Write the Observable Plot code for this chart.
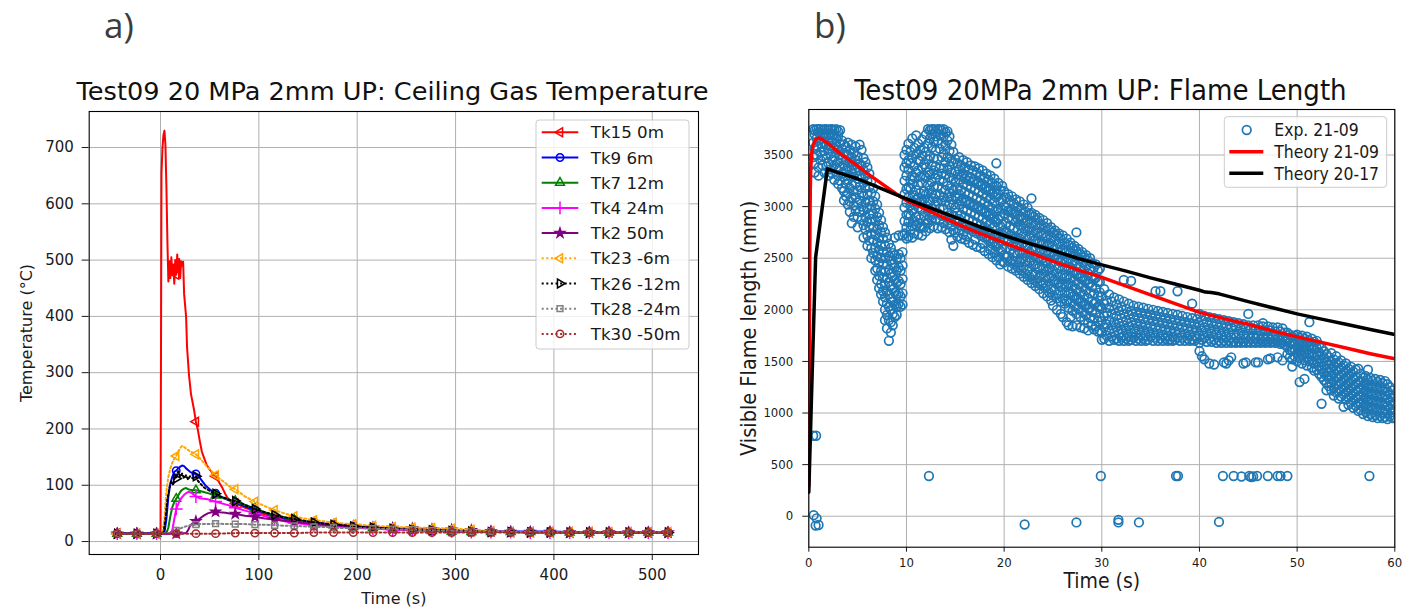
<!DOCTYPE html>
<html>
<head>
<meta charset="utf-8">
<script src="https://cdn.jsdelivr.net/npm/d3@7"></script>
<script src="https://cdn.jsdelivr.net/npm/@observablehq/plot@0.6"></script>
<style>
  html, body { margin: 0; padding: 0; background: #fff; }
  #page { position: relative; width: 1419px; height: 608px; overflow: hidden; background: #fff; }
  #page > svg { position: absolute; top: 0; }
</style>
</head>
<body>
<div id="page"></div>
<script>
// ---------- Panel a) ceiling gas temperature, Test09 ----------
const tempXTicks = [0, 100, 200, 300, 400, 500];
const tempYTicks = [0, 100, 200, 300, 400, 500, 600, 700];
// samples that carry a marker (every 20 s)
const markerTimes = [-44, -24, -4, 16, 36, 56, 76, 96, 116, 136, 156, 176, 196, 216, 236, 256, 276, 296, 316, 336, 356, 376, 396, 416, 436, 456, 476, 496, 516];

// [time s, temperature °C]
const tk15 = [[-44,15],[-24,14],[-4,14],[0,15],[1,655],[2,700],[3,722],[4,730],[5,705],[6,630],[7,535],[8,462],[9,498],[10,468],[11,505],[12,476],[13,492],[14,458],[15,500],[16,474],[17,510],[18,478],[19,502],[20,468],[21,498],[22,490],[23,497],[24,440],[26,400],[27,345],[29,295],[31,262],[34,235],[36,213],[38,198],[40,178],[42,160],[44,150],[47,136],[50,128],[53,121],[56,116],[58,111],[60,104],[63,95],[66,84],[68,78],[72,72],[76,68],[86,60],[96,54],[106,48],[116,44],[126,40],[136,37],[146,35],[156,33],[176,30],[196,27],[216,25],[236,23],[256,21],[276,20],[296,19],[316,18],[336,18],[356,17],[376,17],[396,17],[416,17],[436,17],[456,16],[476,16],[496,16],[516,16],[519,16]];
const tk9 = [[-44,15],[-24,15],[-4,15],[4,16],[6,40],[8,80],[10,103],[12,115],[14,124],[16,126],[18,130],[20,133],[22,135],[24,134],[26,130],[28,127],[30,124],[33,121],[36,120],[38,117],[40,113],[43,106],[46,99],[50,93],[53,89],[56,86],[60,81],[66,76],[70,73],[76,70],[86,62],[96,56],[106,51],[116,46],[126,42],[136,39],[146,36],[156,34],[166,32],[176,30],[186,28],[196,27],[216,25],[236,23],[256,21],[276,20],[296,19],[316,18],[336,18],[356,18],[376,18],[396,18],[416,17],[436,17],[456,17],[476,17],[496,17],[516,17],[519,17]];
const tk7 = [[-44,14],[-24,14],[-4,14],[6,15],[8,25],[10,45],[12,61],[14,70],[16,76],[18,82],[20,88],[22,92],[24,94],[26,95],[28,93],[30,92],[33,91],[36,91],[40,90],[44,88],[48,86],[52,84],[56,82],[60,79],[66,76],[70,74],[76,72],[86,65],[96,59],[106,52],[116,47],[126,43],[136,39],[146,36],[156,33],[166,31],[176,29],[186,27],[196,26],[216,24],[236,22],[256,20],[276,19],[296,18],[316,17],[336,17],[356,17],[376,17],[396,17],[416,16],[436,16],[456,16],[476,16],[496,16],[516,16],[519,16]];
const tk4 = [[-44,14],[-24,14],[-4,14],[10,14],[12,20],[14,40],[16,58],[18,67],[20,74],[22,79],[24,83],[26,86],[28,88],[30,88],[32,86],[34,83],[36,80],[40,77],[44,76],[48,75],[52,73],[56,71],[60,69],[66,66],[70,64],[76,60],[86,55],[96,50],[106,45],[116,40],[126,36],[136,33],[146,31],[156,29],[176,27],[196,25],[216,23],[236,21],[256,20],[276,19],[296,18],[316,17],[336,17],[356,17],[376,16],[396,16],[416,16],[436,16],[456,16],[476,16],[496,16],[516,16],[519,16]];
const tk2 = [[-44,14],[-24,14],[-4,14],[16,14],[26,15],[28,20],[30,28],[33,33],[36,36],[40,41],[44,46],[48,50],[52,52],[56,53],[60,52],[66,51],[70,50],[76,49],[86,46],[96,44],[106,41],[116,39],[126,37],[136,35],[146,33],[156,31],[166,30],[176,29],[196,27],[216,25],[236,24],[256,23],[276,22],[296,21],[316,20],[336,18],[356,17],[376,17],[396,17],[416,16],[436,16],[456,16],[476,16],[496,16],[516,16],[519,16]];
const tk23 = [[-44,14],[-24,14],[-4,14],[2,16],[4,40],[6,90],[8,115],[10,130],[12,140],[14,147],[16,152],[18,160],[20,166],[22,170],[24,168],[26,165],[28,163],[30,160],[33,158],[36,155],[40,148],[44,140],[48,132],[52,125],[56,118],[60,112],[66,104],[70,98],[76,93],[80,88],[86,80],[96,71],[106,63],[116,56],[126,50],[136,45],[146,41],[156,38],[166,36],[176,34],[186,32],[196,31],[216,28],[236,26],[256,25],[276,24],[296,23],[316,21],[336,18],[356,17],[376,17],[396,17],[416,17],[436,17],[456,17],[476,17],[496,17],[516,17],[519,17]];
const tk26 = [[-44,14],[-24,14],[-4,14],[3,15],[5,40],[7,75],[9,95],[11,108],[13,100],[15,118],[16,112],[18,125],[20,115],[22,121],[24,112],[26,118],[28,110],[30,116],[33,112],[36,116],[38,108],[40,104],[43,98],[46,94],[50,90],[53,87],[56,85],[60,80],[66,77],[70,74],[76,72],[80,70],[86,65],[96,58],[106,52],[116,47],[126,43],[136,40],[146,37],[156,34],[166,32],[176,30],[186,29],[196,27],[216,25],[236,23],[256,21],[276,20],[296,19],[316,18],[336,17],[356,17],[376,16],[396,16],[416,16],[436,16],[456,16],[476,16],[496,16],[516,16],[519,16]];
const tk28 = [[-44,14],[-24,14],[-4,14],[10,15],[14,18],[16,20],[20,23],[24,26],[28,28],[32,30],[36,30],[40,31],[46,31],[56,32],[66,31],[76,31],[86,31],[96,30],[106,30],[116,29],[126,28],[136,28],[146,27],[156,26],[166,26],[176,25],[186,24],[196,24],[216,23],[236,22],[256,21],[276,20],[296,19],[316,18],[336,18],[356,17],[376,17],[396,16],[416,16],[436,16],[456,16],[476,16],[496,16],[516,16],[519,16]];
const tk30 = [[-44,14],[-24,14],[-4,14],[16,14],[36,14],[56,14],[76,15],[96,15],[116,15],[136,15],[156,16],[176,16],[196,16],[216,16],[236,16],[256,16],[276,16],[296,16],[316,16],[336,16],[356,16],[376,16],[396,16],[416,16],[436,16],[456,16],[476,16],[496,16],[516,16],[519,16]];

const dotted = "2,2.6";
const thermocouples = [
  {name: "Tk15 0m",   data: tk15, color: "red",     dash: null,   symbol: d3.symbolTriangle2, rotate: -90, fill: "none", r: 4.2},
  {name: "Tk9 6m",    data: tk9,  color: "blue",    dash: null,   symbol: d3.symbolCircle,    rotate: 0,   fill: "none", r: 3.7},
  {name: "Tk7 12m",   data: tk7,  color: "green",   dash: null,   symbol: d3.symbolTriangle2, rotate: 0,   fill: "none", r: 4.2},
  {name: "Tk4 24m",   data: tk4,  color: "magenta", dash: null,   symbol: d3.symbolPlus,      rotate: 0,   fill: "none", r: 4.2},
  {name: "Tk2 50m",   data: tk2,  color: "purple",  dash: null,   symbol: d3.symbolStar,      rotate: 0,   fill: "purple", r: 2.9},
  {name: "Tk23 -6m",  data: tk23, color: "orange",  dash: dotted, symbol: d3.symbolTriangle2, rotate: -90, fill: "none", r: 4.2},
  {name: "Tk26 -12m", data: tk26, color: "black",   dash: dotted, symbol: d3.symbolTriangle2, rotate: 90,  fill: "none", r: 4.2},
  {name: "Tk28 -24m", data: tk28, color: "gray",    dash: dotted, symbol: d3.symbolSquare2,   rotate: 0,   fill: "none", r: 3.7},
  {name: "Tk30 -50m", data: tk30, color: "brown",   dash: dotted, symbol: d3.symbolCircle,    rotate: 0,   fill: "none", r: 3.7}
];
const markerSet = new Set(markerTimes);

const seriesMarks = thermocouples.flatMap(s => [
  Plot.line(s.data, {x: d => d[0], y: d => d[1], stroke: s.color, strokeWidth: 2, strokeDasharray: s.dash ?? undefined}),
  Plot.dot(s.data.filter(d => markerSet.has(d[0])), {x: d => d[0], y: d => d[1], symbol: s.symbol, r: s.r, rotate: s.rotate, stroke: s.color, fill: s.fill, strokeWidth: 1.5})
]);

const fmt = d => String(d);
const gridStyle = {stroke: "#b0b0b0", strokeOpacity: 1, strokeWidth: 1};

const left = Plot.plot({
  width: 710, height: 608,
  marginLeft: 88.7, marginRight: 12, marginTop: 111, marginBottom: 54,
  style: {fontFamily: "DejaVu Sans", fontSize: "15px", color: "#1a1a1a", background: "transparent", overflow: "visible"},
  x: {domain: [-72.5, 547], ticks: tempXTicks, tickSize: 6, tickPadding: 8.8, tickFormat: fmt, label: null},
  y: {domain: [-23, 764], ticks: tempYTicks, tickSize: 7, tickPadding: 8.4, tickFormat: fmt, label: null},
  marks: [
    Plot.gridX({ticks: tempXTicks, ...gridStyle}),
    Plot.gridY({ticks: tempYTicks, ...gridStyle}),
    ...seriesMarks,
    Plot.frame({stroke: "#000", strokeWidth: 1.1}),
    Plot.text(["Time (s)"], {text: d => d, frameAnchor: "bottom", lineAnchor: "middle", dy: 44, fontSize: 16}),
    Plot.text(["Temperature (°C)"], {text: d => d, frameAnchor: "left", textAnchor: "middle", lineAnchor: "middle", dx: -62, rotate: -90, fontSize: 16})
  ]
});
left.style.left = "0px";

// ---------- Panel b) visible flame length, Test09 ----------
const lenXTicks = [0, 10, 20, 30, 40, 50, 60];
const lenYTicks = [0, 500, 1000, 1500, 2000, 2500, 3000, 3500];

// [time s, length mm]
const theory2109 = [[0,297],[0.05,1500],[0.1,2600],[0.15,3150],[0.2,3380],[0.3,3520],[0.45,3600],[0.7,3650],[1.0,3665],[1.3,3655],[2,3610],[3,3530],[4,3460],[5,3395],[6,3320],[7.5,3220],[9,3120],[10,3060],[12.5,2950],[15,2840],[17.5,2740],[20,2650],[22.5,2560],[25,2470],[27.5,2390],[30,2315],[32.5,2230],[35,2145],[37.5,2060],[40,1975],[42.5,1915],[45,1860],[47.5,1795],[50,1738],[52.5,1685],[55,1630],[57.5,1575],[60,1525]];
const theory2017 = [[0,232],[0.35,1400],[0.7,2510],[1.9,3366],[3,3330],[5,3270],[7.5,3173],[10,3075],[12.5,2985],[15,2895],[17.5,2805],[20,2720],[22.5,2645],[25,2575],[27.5,2500],[30,2436],[32.5,2375],[35,2310],[37.5,2250],[40,2190],[40.6,2172],[41.2,2168],[42,2155],[45,2080],[47.5,2020],[50,1961],[52.5,1910],[55,1860],[57.5,1810],[60,1761]];

// measured flame lengths: each row is [time s, length mm, length mm, ...]
const expRise = [
  [0.45,3750,3620,3480],[0.6,3740,3700,3560,3420,3330],[0.8,3750,3660,3590,3500],[1.0,3750,3720,3640,3380,3300],
  [1.2,3750,3700,3610,3530,3450],[1.4,3740,3690,3580,3490,3400],[1.6,3750,3710,3620,3540,3330],[1.8,3750,3680,3600,3470,3390],
  [2.0,3740,3700,3630,3560,3420,3300],[2.2,3750,3710,3590,3510,3360],[2.4,3750,3690,3640,3450,3320],[2.6,3740,3700,3570,3480,3400,3260],
  [2.8,3750,3660,3600,3520,3370],[3.0,3730,3680,3550,3430,3300,3220],[3.2,3740,3610,3500,3380,3250],[3.4,3640,3560,3470,3320,3180],
  [3.6,3600,3520,3410,3290,3150,3060],[3.8,3580,3450,3350,3220,3100],[4.0,3620,3500,3390,3260,3130,3020],[4.2,3550,3430,3300,3180,3050,2950],
  [4.4,3600,3480,3360,3210,3080,2840],[4.6,3520,3400,3290,3150,3010,2900],[4.8,3580,3450,3330,3220,3090,2960],[5.0,3490,3380,3270,3160,3040,2900,2800],
  [5.2,3600,3420,3300,3190,3060,2950],[5.4,3550,3400,3280,3130,3000,2870],[5.6,3470,3350,3230,3100,2960,2820,2700],[5.8,3430,3300,3180,3040,2900,2780],
  [6.0,3380,3250,3120,2990,2850,2720,2620],[6.2,3320,3190,3060,2930,2800,2670],[6.4,3250,3130,3010,2880,2740,2600,2500],[6.6,3180,3050,2930,2800,2680,2550],
  [6.8,3100,2980,2860,2730,2600,2480,2380],[7.0,3020,2900,2780,2650,2520,2400,2290],[7.2,2940,2820,2700,2580,2460,2330,2210],[7.4,2870,2750,2620,2500,2380,2250,2150],
  [7.6,2800,2690,2560,2440,2310,2180,2080],[7.8,2750,2620,2500,2370,2240,2120,2000,1900],[8.0,2700,2560,2440,2310,2180,2060,1950,1820],[8.2,2640,2520,2390,2270,2150,2030,1900,1700],
  [8.4,2600,2480,2350,2230,2110,2000,1880,1780],[8.6,2550,2440,2320,2200,2080,1960,1850],[8.8,2700,2530,2410,2290,2170,2050,1930],[9.0,2500,2380,2260,2140,2030,1950],
  [9.2,2720,2540,2410,2280,2160,2060],[9.4,2500,2380,2250,2130,2030],[9.6,2720,2560,2430,2300,2160,2050],[9.8,3500,3380,3250,3120,2990,2860,2740],
  [10.0,3550,3420,3300,3170,3040,2920,2800,2690]
];
const expSecond = [
  [10.2,3610,3450,3360,3190,3090,2930,2850,2710],[10.4,3530,3420,3260,3170,3010,2910,2770],[10.6,3660,3470,3300,3220,3050,2960,2810,2700],[10.8,3570,3390,3280,3110,3020,2860,2740],
  [11.0,3690,3510,3330,3160,3070,2900,2820],[11.2,3610,3450,3350,3210,3080,2990,2840,2730],[11.4,3550,3440,3290,3130,3040,2880,2790],[11.6,3650,3490,3380,3230,3060,2970,2810,2720],
  [11.8,3570,3410,3300,3150,3070,2910,2800],[12.0,3700,3530,3380,3280,3120,3010,2870,2760],[12.2,3750,3610,3460,3330,3210,3060,2960,2840],[12.4,3740,3660,3490,3310,3160,3050,2900,2790],
  [12.6,3750,3700,3570,3400,3240,3130,2980,2870],[12.8,3750,3630,3470,3350,3190,3080,2930,2810],[13.0,3730,3680,3540,3390,3280,3120,3020,2880],[13.2,3750,3640,3460,3310,3200,3050,2940,2790],
  [13.4,3750,3700,3560,3370,3260,3110,2980,2870],[13.6,3740,3610,3480,3320,3170,3060,2910,2800],[13.8,3750,3680,3510,3370,3240,3090,2980,2840],[14.0,3720,3590,3430,3310,3160,3050,2900,2780],
  [14.2,3730,3640,3480,3360,3200,3090,2940,2830],[14.4,3680,3540,3390,3280,3130,3020,2870,2750],[14.6,3600,3440,3330,3180,3070,2920,2810,2680],[14.8,3530,3420,3270,3160,3020,2910,2770,2620],
  [15.0,3460,3340,3240,3100,2990,2860,2750],[15.2,3420,3310,3180,3080,2940,2840,2710],[15.4,3480,3360,3260,3120,3020,2880,2770],[15.6,3400,3300,3160,3060,2920,2820,2690],
  [15.8,3450,3320,3220,3080,2980,2840,2730],[16.0,3380,3270,3140,3040,2900,2800,2680],[16.2,3430,3300,3200,3060,2960,2820,2710],[16.4,3360,3250,3120,3020,2880,2780,2650],
  [16.6,3400,3280,3180,3040,2940,2800],[16.8,3350,3240,3100,3000,2860,2760,2630],[17.0,3390,3260,3160,3020,2920,2780,2680],[17.2,3330,3220,3080,2980,2840,2740,2610],
  [17.4,3370,3240,3140,3000,2900,2760],[17.6,3300,3200,3060,2960,2820,2720,2600],[17.8,3350,3220,3120,2980,2880,2740,2640],[18.0,3280,3170,3040,2940,2800,2700,2570],
  [18.2,3320,3190,3090,2950,2850,2710],[18.4,3260,3150,3010,2910,2770,2670,2540],[18.6,3300,3170,3070,2930,2830,2690,2580],[18.8,3230,3120,2980,2880,2740,2640,2510],
  [19.0,3270,3140,3040,2900,2800,2660,2550],[19.2,3420,3200,3090,2950,2850,2710,2610,2480],[19.4,3230,3120,2980,2880,2740,2640,2510],[19.6,3160,3050,2910,2810,2670,2570,2440],
  [19.8,3200,3070,2970,2830,2730,2590,2470]
];
const expDecay = [
  [20.0,3150,3010,2930,2770,2690,2530,2460],[20.2,3090,2990,2840,2750,2600,2510],[20.4,3120,2960,2890,2740,2660,2520,2420],[20.6,3060,2950,2810,2720,2580,2470],
  [20.8,3100,2970,2870,2710,2620,2480,2400],[21.0,3030,2930,2790,2690,2550,2440],[21.2,3070,2950,2850,2700,2610,2470,2380],[21.4,3000,2880,2780,2640,2540,2410],
  [21.6,3050,2910,2820,2690,2560,2460,2350],[21.8,2980,2870,2740,2630,2500,2380],[22.0,3020,2890,2790,2650,2550,2410,2320],[22.2,2950,2840,2710,2610,2470,2350],
  [22.4,2990,2860,2760,2620,2510,2380,2290],[22.6,2930,2800,2700,2560,2460,2320],[22.8,3080,2940,2840,2720,2580,2480,2340,2260],[23.0,2900,2770,2670,2530,2430,2290],
  [23.2,2920,2820,2680,2580,2440,2340,2230],[23.4,2870,2740,2640,2500,2400,2260],[23.6,2890,2790,2650,2550,2410,2310,2200],[23.8,2830,2720,2590,2490,2350,2240],
  [24.0,2870,2740,2640,2500,2400,2260,2160],[24.2,2800,2700,2560,2460,2320,2210],[24.4,2840,2710,2610,2470,2370,2230,2130],[24.6,2780,2650,2550,2410,2310,2170],
  [24.8,2800,2700,2560,2460,2330,2200,2090],[25.0,2750,2620,2520,2380,2280,2140,2040],[25.2,2770,2670,2530,2430,2290,2190],[25.4,2720,2590,2490,2350,2250,2110,2000],
  [25.6,2740,2640,2500,2400,2260,2150],[25.8,2690,2560,2460,2320,2220,2080,1960],[26.0,2720,2590,2490,2350,2250,2110,1930],[26.2,2650,2550,2410,2310,2170,2060],
  [26.4,2690,2560,2460,2320,2220,2080,1880],[26.6,2630,2500,2400,2260,2160,2020,1850],[26.8,2650,2550,2410,2310,2170,2070,1930],[27.0,2600,2470,2370,2230,2130,1990,1840],
  [27.2,2620,2520,2380,2280,2140,2040],[27.4,2750,2570,2440,2340,2200,2100,1960,1850],[27.6,2590,2490,2350,2250,2110,2010],[27.8,2540,2410,2310,2170,2070,1930,1830],
  [28.0,2560,2460,2320,2220,2080,1980],[28.2,2510,2380,2280,2140,2040,1900,1820],[28.4,2530,2430,2290,2190,2050,1950],[28.6,2480,2350,2250,2110,2010,1870,1800],
  [28.8,2500,2400,2260,2160,2020,1920],[29.0,2450,2320,2220,2080,1980,1850],[29.2,2410,2300,2160,2060,1920,1810],[29.4,2440,2310,2210,2070,1970,1840],
  [29.6,2380,2270,2130,2030,1890,1790],[29.8,2400,2270,2170,2030,1930,1800]
];
const expPlateau = [
  [30.0,2130,2010,1890,1780,1710],[30.25,2200,2060,1940,1830,1720],[30.5,2090,1970,1860,1750],[30.75,2150,2020,1900,1800,1700],
  [31.0,2080,1960,1850,1740],[31.25,2120,2000,1880,1780,1710],[31.5,2050,1940,1830,1720],[31.75,2100,1990,1870,1770,1700],
  [32.0,2030,1920,1810,1730],[32.25,2290,2080,1960,1850,1750,1700],[32.5,2010,1900,1800,1720],[32.75,2060,1950,1840,1740,1700],
  [33.0,2280,1990,1880,1780,1710],[33.25,2040,1930,1820,1730],[33.5,1980,1870,1770,1700],[33.75,2030,1920,1810,1720],
  [34.0,1970,1860,1760,1700],[34.25,2020,1910,1800,1720],[34.5,1960,1850,1750,1700],[34.75,2010,1900,1790,1710],
  [35.0,1950,1840,1740],[35.25,2000,1890,1780,1700],[35.5,2180,1940,1830,1730],[35.75,1990,1880,1770,1700],
  [36.0,2180,1930,1820,1720],[36.25,1980,1870,1760,1700],[36.5,1920,1810,1720],[36.75,1970,1860,1750,1700],
  [37.0,1910,1800,1710],[37.25,1960,1850,1740,1700],[37.5,1900,1790,1710],[37.75,2180,1950,1840,1730],
  [38.0,1890,1780,1700],[38.25,1940,1830,1730],[38.5,1880,1770,1700],[38.75,1930,1820,1720],
  [39.0,1870,1760,1700],[39.25,2060,1920,1810,1710],[39.5,1860,1750,1700],[39.75,1910,1800,1720],
  [40.0,1960,1850,1750,1680,1600],[40.25,1900,1800,1710,1550],[40.5,1940,1830,1730,1520],[40.75,1880,1780,1690],
  [41.0,1930,1820,1720,1480],[41.25,1870,1770,1690],[41.5,1920,1810,1710,1470],[41.75,1860,1760,1680],
  [42.0,1910,1800,1700],[42.25,1850,1750,1680],[42.5,1900,1790,1700,1490],[42.75,1840,1740,1680,1480],
  [43.0,1890,1780,1700,1510],[43.25,1830,1730,1680,1540],[43.5,1880,1770,1690],[43.75,1830,1730,1680],
  [44.0,1870,1770,1690],[44.25,1820,1720,1680],[44.5,1860,1760,1690,1480],[44.75,1820,1720,1680,1490],
  [45.0,1960,1850,1750,1690],[45.25,1810,1720,1680],[45.5,1850,1750,1690],[45.75,1810,1720,1680,1490],
  [46.0,1850,1750,1690,1490],[46.25,1800,1710,1680],[46.5,1870,1840,1740,1690],[46.75,1800,1710,1680],
  [47.0,1840,1740,1690,1520],[47.25,1800,1710,1680,1530],[47.5,1830,1740,1690],[47.75,1790,1710,1680],
  [48.0,1830,1730,1690,1540],[48.25,1790,1700,1670],[48.5,1820,1730,1680,1510],[48.75,1780,1700,1660]
];
const expTail = [
  [49.0,1780,1700,1640,1570],[49.25,1760,1680,1610,1540],[49.5,1740,1670,1600,1520,1450],[49.75,1750,1690,1620,1550],
  [50.0,1760,1700,1640,1580,1500],[50.25,1730,1670,1600,1530,1300],[50.5,1750,1690,1620,1560,1480],[50.75,1720,1650,1580,1510,1330],
  [51.0,1740,1680,1610,1540,1460],[51.25,1880,1700,1640,1570,1500],[51.5,1720,1650,1580,1510,1440],[51.75,1690,1620,1550,1480,1410],
  [52.0,1700,1630,1560,1490,1420],[52.25,1660,1590,1520,1450,1380],[52.5,1630,1560,1490,1420,1350,1090],[52.75,1600,1530,1460,1390,1320],
  [53.0,1570,1500,1430,1360,1290,1220],[53.25,1540,1470,1400,1330,1260],[53.5,1580,1500,1430,1360,1290,1220],[53.75,1520,1450,1380,1310,1240,1170],
  [54.0,1550,1480,1410,1340,1270,1200],[54.25,1490,1420,1350,1280,1210,1140],[54.5,1510,1440,1370,1300,1230,1160],[54.75,1460,1390,1320,1250,1180,1060],
  [55.0,1480,1410,1340,1270,1200,1130],[55.25,1430,1360,1290,1220,1150,1080],[55.5,1450,1380,1310,1240,1170,1100],[55.75,1400,1330,1260,1190,1120,1050],
  [56.0,1420,1350,1280,1210,1140,1070],[56.25,1430,1300,1230,1160,1090,1020],[56.5,1380,1310,1240,1170,1100,1030],[56.75,1340,1270,1200,1130,1060,990],
  [57.0,1360,1290,1220,1150,1080,1010],[57.25,1420,1320,1250,1180,1110,1040,970],[57.5,1340,1270,1200,1130,1060,990],[57.75,1310,1240,1170,1100,1030,960],
  [58.0,1330,1260,1190,1120,1050,980],[58.25,1300,1230,1160,1090,1020,950],[58.5,1320,1250,1180,1110,1040,970],[58.75,1290,1220,1150,1080,1010,950],
  [59.0,1310,1240,1170,1100,1030,960],[59.25,1280,1210,1140,1070,1000,940],[59.5,1250,1180,1110,1040,970],[59.75,1220,1150,1080,1010,950],
  [60.0,1170,1100,1030,960]
];
// isolated detections well below the flame band: [time s, length mm]
const expStray = [[0.5,10],[0.8,-20],[0.7,-90],[1.0,-85],[0.45,780],[0.75,780],[12.3,390],[22.1,-80],[27.4,-60],[29.9,390],[31.7,-60],[31.7,-35],[33.8,-60],[37.6,390],[37.8,390],[42.0,-55],[42.4,390],[43.5,390],[44.3,385],[45.1,390],[45.3,380],[45.5,385],[45.9,390],[47.0,390],[48.0,390],[48.3,390],[49.0,390],[57.4,390]];

const expPoints = [...expRise, ...expSecond, ...expDecay, ...expPlateau, ...expTail]
  .flatMap(([t, ...ls]) => ls.map(L => [t, L]))
  .concat(expStray);

const condensed = "'DejaVu Sans Condensed', 'DejaVu Sans'";
const expBlue = "#1f77b4";

const right = Plot.plot({
  width: 719, height: 608,
  marginLeft: 108.3, marginRight: 24.7, marginTop: 109, marginBottom: 61.3,
  style: {fontFamily: condensed, fontStretch: "condensed", fontSize: "13px", color: "#1a1a1a", background: "transparent", overflow: "visible"},
  x: {domain: [0, 60], ticks: lenXTicks, tickSize: 5, tickPadding: 5.5, tickFormat: fmt, label: null},
  y: {domain: [-300, 3941], ticks: lenYTicks, tickSize: 6, tickPadding: 9.6, tickFormat: fmt, label: null},
  marks: [
    Plot.gridX({ticks: lenXTicks, ...gridStyle}),
    Plot.gridY({ticks: lenYTicks, ...gridStyle}),
    Plot.dot(expPoints, {x: d => d[0], y: d => d[1], r: 4.3, stroke: expBlue, strokeWidth: 1.7, fill: "none", clip: true}),
    Plot.line(theory2109, {x: d => d[0], y: d => d[1], stroke: "red", strokeWidth: 3.5, clip: true}),
    Plot.line(theory2017, {x: d => d[0], y: d => d[1], stroke: "black", strokeWidth: 3.5, clip: true}),
    Plot.frame({stroke: "#000", strokeWidth: 1.1}),
    Plot.text(["Time (s)"], {text: d => d, frameAnchor: "bottom", lineAnchor: "middle", dy: 34.5, fontSize: 21}),
    Plot.text(["Visible Flame length (mm)"], {text: d => d, frameAnchor: "left", textAnchor: "middle", lineAnchor: "middle", dx: -60, rotate: -90, fontSize: 21.5})
  ]
});
right.style.left = "700px";

const page = document.getElementById("page");
page.appendChild(left);
page.appendChild(right);

// ---------- titles, panel letters and legends ----------
const overlay = d3.create("svg").attr("width", 1419).attr("height", 608)
  .style("left", "0px").style("pointer-events", "none");

overlay.append("text").text("a)").attr("x", 104).attr("y", 38)
  .attr("font-family", "Open Sans").attr("font-size", 35).attr("fill", "#3c3c3c");
overlay.append("text").text("b)").attr("x", 814).attr("y", 38)
  .attr("font-family", "Open Sans").attr("font-size", 35).attr("fill", "#3c3c3c");

overlay.append("text").text("Test09 20 MPa 2mm UP: Ceiling Gas Temperature")
  .attr("x", 392.5).attr("y", 100).attr("text-anchor", "middle")
  .attr("font-family", "DejaVu Sans").attr("font-size", 25.6).attr("fill", "#111");
overlay.append("text").text("Test09 20MPa 2mm UP: Flame Length")
  .attr("x", 1100.5).attr("y", 100).attr("text-anchor", "middle")
  .attr("font-family", condensed).attr("font-stretch", "condensed").attr("font-size", 29).attr("fill", "#111");

// legend for panel a)
const lgA = overlay.append("g");
lgA.append("rect").attr("x", 536).attr("y", 120).attr("width", 153).attr("height", 229).attr("rx", 3)
  .attr("fill", "#fff").attr("fill-opacity", 0.8).attr("stroke", "#cccccc").attr("stroke-width", 1);
thermocouples.forEach((s, i) => {
  const y = 132.3 + 25.2 * i;
  lgA.append("line").attr("x1", 541.7).attr("x2", 578.3).attr("y1", y).attr("y2", y)
    .attr("stroke", s.color).attr("stroke-width", 2).attr("stroke-dasharray", s.dash);
  lgA.append("path").attr("d", d3.symbol(s.symbol, Math.PI * s.r * s.r)())
    .attr("transform", `translate(560,${y}) rotate(${s.rotate})`)
    .attr("fill", s.fill).attr("stroke", s.color).attr("stroke-width", 1.5);
  lgA.append("text").text(s.name).attr("x", 590.7).attr("y", y).attr("dy", "0.36em")
    .attr("font-family", "DejaVu Sans").attr("font-size", 16.7).attr("fill", "#1a1a1a");
});

// legend for panel b)
const lgB = overlay.append("g");
lgB.append("rect").attr("x", 1224.3).attr("y", 116.7).attr("width", 162.4).attr("height", 70.6).attr("rx", 3)
  .attr("fill", "#fff").attr("fill-opacity", 0.8).attr("stroke", "#cccccc").attr("stroke-width", 1);
const lenSeries = [
  {name: "Exp. 21-09", kind: "dot", color: expBlue},
  {name: "Theory 21-09", kind: "line", color: "red"},
  {name: "Theory 20-17", kind: "line", color: "black"}
];
lenSeries.forEach((s, i) => {
  const y = 130 + 21.65 * i;
  if (s.kind === "dot") {
    lgB.append("circle").attr("cx", 1246.7).attr("cy", y).attr("r", 4.3)
      .attr("fill", "none").attr("stroke", s.color).attr("stroke-width", 1.7);
  } else {
    lgB.append("line").attr("x1", 1229.3).attr("x2", 1263.3).attr("y1", y).attr("y2", y)
      .attr("stroke", s.color).attr("stroke-width", 3.5);
  }
  lgB.append("text").text(s.name).attr("x", 1274.3).attr("y", y).attr("dy", "0.36em")
    .attr("font-family", condensed).attr("font-stretch", "condensed").attr("font-size", 17.4).attr("fill", "#1a1a1a");
});

page.appendChild(overlay.node());
</script>
</body>
</html>
